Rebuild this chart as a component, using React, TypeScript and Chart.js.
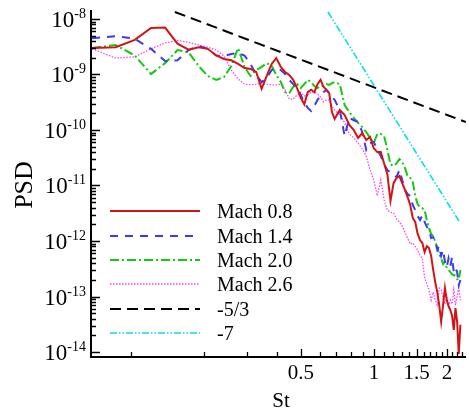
import React, { useEffect, useRef } from 'react';
import { Chart, registerables } from 'chart.js';

Chart.register(...registerables);

// Strouhal numbers (shared frequency grid)
const ST = [
  0.0688, 0.086, 0.1032, 0.1204, 0.1376, 0.1548, 0.172, 0.1892, 0.2064, 0.2236,
  0.2408, 0.258, 0.2752, 0.2924, 0.3096, 0.3268, 0.344, 0.3612, 0.3784, 0.3956,
  0.4128, 0.43, 0.4472, 0.4644, 0.4816, 0.4988, 0.516, 0.5332, 0.5504, 0.5676,
  0.5848, 0.602, 0.6192, 0.6364, 0.6536, 0.6708, 0.688,
  0.7224, 0.7568, 0.7912, 0.8256, 0.86, 0.8944, 0.9288, 0.9632, 0.9976, 1.032,
  1.0664, 1.1008, 1.1352, 1.1696, 1.204, 1.2384, 1.2728, 1.3072, 1.3416, 1.376,
  1.4104, 1.4448, 1.4792, 1.5136, 1.548, 1.5824, 1.6168, 1.6512, 1.6856, 1.72,
  1.7544, 1.7888, 1.8232, 1.8576, 1.892, 1.9264, 1.9608, 1.9952, 2.0296, 2.064,
  2.0984, 2.1328, 2.1672, 2.2016, 2.236, 2.2704,
];

const MACH_08 = [
  3.0e-9, 3.1e-9, 4.2e-9, 6.9e-9, 7.0e-9, 3.6e-9, 2.8e-9, 3.1e-9, 2.9e-9, 2.2e-9,
  1.9e-9, 1.8e-9, 1.55e-9, 1.31e-9, 1.26e-9, 1.11e-9, 5.5e-10, 9.4e-10, 1.55e-9, 1.98e-9,
  1.37e-9, 1.11e-9, 9.8e-10, 8.0e-10, 5.7e-10, 3.8e-10, 2.9e-10, 4.8e-10, 5.3e-10, 4.8e-10,
  6.7e-10, 8.0e-10, 6.0e-10, 5.3e-10, 4.6e-10, 2.1e-10, 1.58e-10,
  2.3e-10, 1.86e-10, 1.23e-10, 1.0e-10, 7.2e-11, 8.8e-11, 6.6e-11, 7.5e-11, 4.7e-11, 4.0e-11,
  4.0e-11, 2.5e-11, 1.6e-11, 5.3e-12, 1.1e-11, 1.37e-11, 1.48e-11, 1.1e-11, 8.3e-12, 6.2e-12,
  4.45e-12, 2.6e-12, 2.2e-12, 1.34e-12, 1.04e-12, 9.2e-13, 6.3e-13, 8.1e-13, 7.5e-13, 5.4e-13,
  3.0e-13, 1.8e-13, 1.2e-13, 7.0e-14, 3.5e-14, 7.0e-14, 1.42e-13, 8.6e-14, 6.7e-14, 5.7e-14,
  4.5e-14, 2.5e-14, 6.2e-14, 3.5e-14, 9.2e-15, 3.1e-14,
];

const MACH_14 = [
  4.5e-9, 4.9e-9, 4.4e-9, 2.9e-9, 1.75e-9, 1.8e-9, 2.76e-9, 3.26e-9, 2.9e-9, 2.2e-9,
  2.15e-9, 2.34e-9, 2.44e-9, 2.2e-9, 1.55e-9, 9.8e-10, 7.3e-10, 8.6e-10, 1.2e-9, 1.31e-9,
  1.2e-9, 1.02e-9, 8.0e-10, 6.7e-10, 5.7e-10, 4.3e-10, 3.1e-10, 2.5e-10, 2.2e-10, 2.7e-10,
  3.5e-10, 4.1e-10, 4.8e-10, 5.3e-10, 4.6e-10, 3.9e-10, 3.5e-10,
  2.3e-10, 7.8e-11, 1.65e-10, 1.5e-10, 1.4e-10, 9.2e-11, 4.4e-11, 5.8e-11, 6.1e-11, 4.4e-11,
  3.4e-11, 2.4e-11, 1.9e-11, 1.7e-11, 1.55e-11, 1.42e-11, 1.9e-11, 1.26e-11, 8.3e-12, 7.0e-12,
  6.5e-12, 4.45e-12, 3.6e-12, 2.8e-12, 2.4e-12, 2.9e-12, 2.2e-12, 1.8e-12, 1.58e-12, 1.13e-12,
  1.18e-12, 9.6e-13, 6.9e-13, 8.1e-13, 5.4e-13, 6.9e-13, 4.2e-13, 3.4e-13, 4.9e-13, 3.55e-13,
  5.15e-13, 2.76e-13, 3.26e-13, 2.76e-13, 1.6e-13, 1.98e-13,
];

const MACH_20 = [
  3.0e-9, 3.4e-9, 2.2e-9, 1.02e-9, 1.6e-9, 2.76e-9, 2.5e-9, 1.42e-9, 9.4e-10, 8.0e-10,
  9.0e-10, 1.42e-9, 3.0e-9, 1.37e-9, 9.4e-10, 1.2e-9, 1.37e-9, 1.6e-9, 1.42e-9, 9.8e-10,
  7.3e-10, 4.8e-10, 4.6e-10, 6.0e-10, 6.7e-10, 5.7e-10, 6.7e-10, 8.0e-10, 7.3e-10, 6.2e-10,
  5.7e-10, 6.2e-10, 6.2e-10, 6.7e-10, 6.5e-10, 7.0e-10, 7.3e-10,
  6.7e-10, 2.8e-10, 2.1e-10, 1.65e-10, 1.34e-10, 1.13e-10, 9.2e-11, 7.2e-11, 5.8e-11, 8.5e-11,
  8.5e-11, 7.8e-11, 4.4e-11, 2.4e-11, 2.25e-11, 2.5e-11, 3.0e-11, 2.65e-11, 2.07e-11, 1.48e-11,
  1.37e-11, 1.16e-11, 6.5e-12, 4.6e-12, 4.1e-12, 3.9e-12, 3.6e-12, 2.4e-12, 1.7e-12, 1.34e-12,
  1.23e-12, 9.6e-13, 7.8e-13, 5.8e-13, 4.9e-13, 3.85e-13, 4.2e-13, 3.26e-13, 3.0e-13, 2.76e-13,
  2.5e-13, 2.44e-13, 2.34e-13, 2.07e-13, 1.98e-13, 3.0e-13,
];

const MACH_26 = [
  2.9e-9, 1.98e-9, 2.07e-9, 2.9e-9, 3.7e-9, 4.1e-9, 3.8e-9, 3.4e-9, 3.1e-9, 2.76e-9,
  2.15e-9, 1.2e-9, 8.3e-10, 6.7e-10, 6.5e-10, 6.7e-10, 7.0e-10, 6.7e-10, 6.5e-10, 6.5e-10,
  6.7e-10, 5.3e-10, 3.6e-10, 3.6e-10, 4.3e-10, 4.8e-10, 4.1e-10, 4.3e-10, 4.8e-10, 4.8e-10,
  4.45e-10, 3.9e-10, 3.2e-10, 3.5e-10, 3.5e-10, 2.7e-10, 2.3e-10,
  1.86e-10, 1.34e-10, 8.5e-11, 7.2e-11, 5.8e-11, 4.55e-11, 3.4e-11, 1.9e-11, 1.26e-11, 6.5e-12,
  1.26e-11, 5.5e-12, 3.6e-12, 3.3e-12, 3.2e-12, 2.5e-12, 2.2e-12, 1.86e-12, 1.45e-12, 1.13e-12,
  8.8e-13, 9.2e-13, 7.8e-13, 6.9e-13, 5.4e-13, 4.9e-13, 2.15e-13, 1.7e-13, 1.31e-13, 8.6e-14,
  1.2e-13, 8.6e-14, 7.0e-14, 1.42e-13, 1.31e-13, 9.4e-14, 7.3e-14, 1.02e-13, 6.7e-14, 8.6e-14,
  7.3e-14, 1.31e-13, 7.0e-14, 1.02e-13, 1.42e-13, 8.6e-14,
];

// Reference slopes
const SLOPE_53_ST = [0.151, 2.39];
const SLOPE_53_PSD = [1.336e-8, 1.39e-10];
const SLOPE_7_ST = [0.646, 2.24];
const SLOPE_7_PSD = [1.336e-8, 2.29e-12];

// Axes
const X_MIN = 0.0681;
const X_MAX = 2.395;
const Y_MIN = 8.13e-15;
const Y_MAX = 1.452e-8;
const X_MAJOR = [0.5, 1, 1.5, 2];
const X_LABELS = ['0.5', '1', '1.5', '2'];
const X_MINOR = [0.1, 0.2, 0.3, 0.4, 0.6, 0.7, 0.8, 0.9, 1.1, 1.2, 1.3, 1.4, 1.6, 1.7, 1.8, 1.9, 2.1, 2.2, 2.3, 2.4];
const Y_EXPONENTS = [-8, -9, -10, -11, -12, -13, -14];
const Y_MANTISSAS = [2, 3, 4, 5, 6, 7, 8, 9];

const LEGEND_LABELS = ['Mach 0.8', 'Mach 1.4', 'Mach 2.0', 'Mach 2.6', '-5/3', '-7'];

const SERIF = '"Liberation Serif", "Times New Roman", serif';

function pts(xs: number[], ys: number[]) {
  return xs.map((x, i) => ({ x, y: ys[i] }));
}

const decorPlugin = {
  id: 'decor',
  afterDraw(chart: any) {
    const { ctx, chartArea: a, scales } = chart;
    const xs = scales.x;
    const ys = scales.y;
    ctx.save();
    ctx.strokeStyle = '#000';
    ctx.fillStyle = '#000';
    ctx.lineWidth = 2;
    ctx.setLineDash([]);
    ctx.beginPath();
    ctx.moveTo(a.left, a.top);
    ctx.lineTo(a.left, a.bottom);
    ctx.lineTo(a.right, a.bottom);
    ctx.stroke();

    ctx.lineWidth = 1.3;
    // x ticks
    ctx.beginPath();
    X_MAJOR.forEach((v) => {
      const px = Math.round(xs.getPixelForValue(v)) + 0.5;
      ctx.moveTo(px, a.bottom);
      ctx.lineTo(px, a.bottom - 8);
    });
    X_MINOR.forEach((v) => {
      if (v < X_MIN || v > X_MAX) return;
      const px = Math.round(xs.getPixelForValue(v)) + 0.5;
      ctx.moveTo(px, a.bottom);
      ctx.lineTo(px, a.bottom - 5);
    });
    // y ticks
    Y_EXPONENTS.forEach((e) => {
      const py = Math.round(ys.getPixelForValue(Math.pow(10, e))) + 0.5;
      ctx.moveTo(a.left, py);
      ctx.lineTo(a.left + 9, py);
      Y_MANTISSAS.forEach((m) => {
        const val = m * Math.pow(10, e);
        if (val > Y_MAX || val < Y_MIN) return;
        const q = Math.round(ys.getPixelForValue(val)) + 0.5;
        ctx.moveTo(a.left, q);
        ctx.lineTo(a.left + 5, q);
      });
    });
    ctx.stroke();

    // x tick labels
    ctx.font = `21px ${SERIF}`;
    ctx.textAlign = 'center';
    ctx.textBaseline = 'alphabetic';
    X_MAJOR.forEach((v, i) => {
      ctx.fillText(X_LABELS[i], xs.getPixelForValue(v), a.bottom + 22);
    });

    // y tick labels
    Y_EXPONENTS.forEach((e) => {
      const py = ys.getPixelForValue(Math.pow(10, e));
      const sup = String(e);
      ctx.font = `14px ${SERIF}`;
      ctx.textAlign = 'right';
      const w = ctx.measureText(sup).width;
      ctx.fillText(sup, 86, py - 1);
      ctx.font = `23px ${SERIF}`;
      ctx.fillText('10', 86 - w, py + 8);
    });

    // axis titles
    ctx.font = `21px ${SERIF}`;
    ctx.textAlign = 'center';
    ctx.fillText('St', 281, 407);
    ctx.save();
    ctx.translate(32, 185);
    ctx.rotate(-Math.PI / 2);
    ctx.font = `26px ${SERIF}`;
    ctx.fillText('PSD', 0, 0);
    ctx.restore();

    // legend
    const rows = [211, 236, 260, 284, 309, 333];
    chart.data.datasets.forEach((ds: any, i: number) => {
      const yy = rows[i];
      ctx.strokeStyle = ds.borderColor;
      ctx.lineWidth = ds.borderWidth;
      ctx.setLineDash(ds.borderDash || []);
      ctx.beginPath();
      ctx.moveTo(110, yy);
      ctx.lineTo(200, yy);
      ctx.stroke();
      ctx.setLineDash([]);
      ctx.fillStyle = '#000';
      ctx.font = `20px ${SERIF}`;
      ctx.textAlign = 'left';
      ctx.fillText(LEGEND_LABELS[i], 217, yy + 7);
    });
    ctx.restore();
  },
};

export default function App() {
  const ref = useRef<HTMLCanvasElement | null>(null);
  useEffect(() => {
    if (!ref.current) return;
    const chart = new Chart(ref.current, {
      type: 'line',
      data: {
        datasets: [
          { label: LEGEND_LABELS[0], data: pts(ST, MACH_08), borderColor: '#d41414', borderWidth: 2, borderDash: [] },
          { label: LEGEND_LABELS[1], data: pts(ST, MACH_14), borderColor: '#3a3af5', borderWidth: 2, borderDash: [8, 7] },
          { label: LEGEND_LABELS[2], data: pts(ST, MACH_20), borderColor: '#14c814', borderWidth: 2, borderDash: [9, 3, 2, 3] },
          { label: LEGEND_LABELS[3], data: pts(ST, MACH_26), borderColor: '#ff40ff', borderWidth: 1.3, borderDash: [1.5, 1.5] },
          { label: LEGEND_LABELS[4], data: pts(SLOPE_53_ST, SLOPE_53_PSD), borderColor: '#000000', borderWidth: 2, borderDash: [11, 6] },
          { label: LEGEND_LABELS[5], data: pts(SLOPE_7_ST, SLOPE_7_PSD), borderColor: '#00e0e8', borderWidth: 1.6, borderDash: [7, 2, 1.5, 2, 1.5, 2] },
        ] as any,
      },
      options: {
        animation: false,
        responsive: false,
        devicePixelRatio: 1,
        parsing: false as any,
        normalized: true,
        elements: { point: { radius: 0 }, line: { tension: 0, fill: false } },
        layout: { padding: { left: 91, right: 3, top: 10, bottom: 54 } },
        plugins: { legend: { display: false }, tooltip: { enabled: false } },
        scales: {
          x: { type: 'logarithmic', min: X_MIN, max: X_MAX, display: false },
          y: { type: 'logarithmic', min: Y_MIN, max: Y_MAX, display: false },
        },
      },
      plugins: [decorPlugin],
    });
    return () => chart.destroy();
  }, []);
  return (
    <div style={{ position: 'fixed', left: 0, top: 0, width: 469, height: 411, background: '#fff' }}>
      <canvas ref={ref} width={469} height={411} style={{ width: 469, height: 411, display: 'block' }} />
    </div>
  );
}
